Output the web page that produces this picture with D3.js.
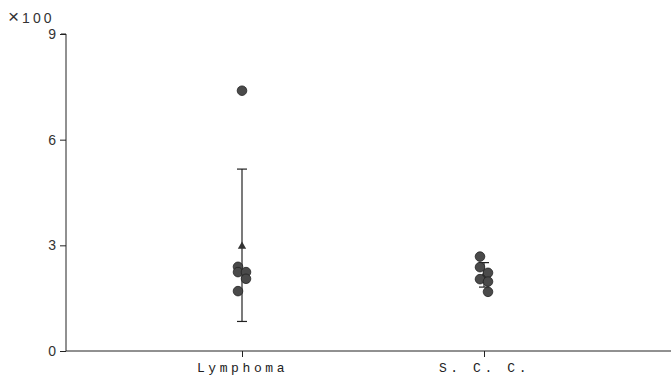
<!DOCTYPE html>
<html><head><meta charset="utf-8">
<script src="https://cdn.jsdelivr.net/npm/d3@7"></script>
<style>
body{margin:0;background:#fff;}
svg{display:block;}
</style></head>
<body>
<svg id="c" width="671" height="376"></svg>
<script>
// Data (values ×100)
const categories = ["Lymphoma", "S.C.C."];
const categoryLabels = ["Lymphoma", "S. C. C."];
const lymphomaValues = [7.39, 2.39, 2.24, 2.24, 2.05, 1.70];
const lymphomaSide   = [0, -1, -1, 1, 1, -1];
const sccValues = [2.68, 2.38, 2.22, 2.04, 1.97, 1.68];
const sccSide   = [-1, -1, 1, -1, 1, 1];
const yTicks = [0, 3, 6, 9];
const yUnitLabel = "×100";

const svg = d3.select("#c");
const x = d3.scalePoint().domain(categories).range([242, 484]);
const y = d3.scaleLinear().domain([0, 9]).range([351, 34]);
const jitter = 4;
const ink = "#222";

const series = [
  {cat: "Lymphoma", values: lymphomaValues, side: lymphomaSide},
  {cat: "S.C.C.", values: sccValues, side: sccSide}
];

// Y axis
const yAxis = d3.axisLeft(y).tickValues(yTicks).tickSize(6).tickPadding(4).tickFormat(d3.format("d"));
const gy = svg.append("g").attr("transform", "translate(66,0)").call(yAxis);
gy.select(".domain").attr("stroke", ink).attr("d", `M-5,${y(9)}H0V${y(0)}`);
gy.selectAll(".tick line").attr("stroke", ink);
gy.selectAll(".tick text").attr("fill", "#333").style("font-family", "Liberation Sans, Arial, sans-serif").style("font-size", "14px");

// X axis
const xAxis = d3.axisBottom(x).tickSize(6).tickPadding(6).tickFormat((d, i) => categoryLabels[i]);
const gx = svg.append("g").attr("transform", `translate(0,${y(0)})`).call(xAxis);
gx.select(".domain").attr("stroke", ink).attr("d", `M66,0H671`);
gx.selectAll(".tick line").attr("stroke", ink);
gx.selectAll(".tick text").attr("fill", "#222")
  .style("font-family", "'Liberation Mono', 'DejaVu Sans Mono', monospace")
  .style("font-size", "13px").style("letter-spacing", "3.6px");

// Unit label
const unit = svg.append("text").attr("x", 8).attr("y", 23)
  .attr("fill", "#333").style("font-family", "Liberation Sans, Arial, sans-serif")
  .style("font-size", "14px").style("letter-spacing", "3px");
unit.append("tspan").style("font-size", "19px").style("font-weight", "300").text(yUnitLabel.slice(0, 1));
unit.append("tspan").text(yUnitLabel.slice(1));

// Error bars (mean ± SD)
series.forEach(s => {
  const m = d3.mean(s.values), sd = d3.deviation(s.values);
  const cx = x(s.cat);
  const g = svg.append("g").attr("stroke", ink).attr("stroke-width", 1.2);
  g.append("line").attr("x1", cx).attr("x2", cx).attr("y1", y(m + sd)).attr("y2", y(m - sd));
  g.append("line").attr("x1", cx - 5).attr("x2", cx + 5).attr("y1", y(m + sd)).attr("y2", y(m + sd));
  g.append("line").attr("x1", cx - 5).attr("x2", cx + 5).attr("y1", y(m - sd)).attr("y2", y(m - sd));
  svg.append("path").attr("d", d3.symbol(d3.symbolTriangle, 30)())
    .attr("transform", `translate(${cx},${y(m) + 1})`).attr("fill", "#333");
});

// Points
series.forEach(s => {
  svg.append("g").selectAll("circle").data(s.values).join("circle")
    .attr("cx", (d, i) => x(s.cat) + s.side[i] * jitter)
    .attr("cy", d => y(d))
    .attr("r", 4.8)
    .attr("fill", "#4a4a4a")
    .attr("stroke", "#222").attr("stroke-width", 0.8);
});
</script>
</body></html>
